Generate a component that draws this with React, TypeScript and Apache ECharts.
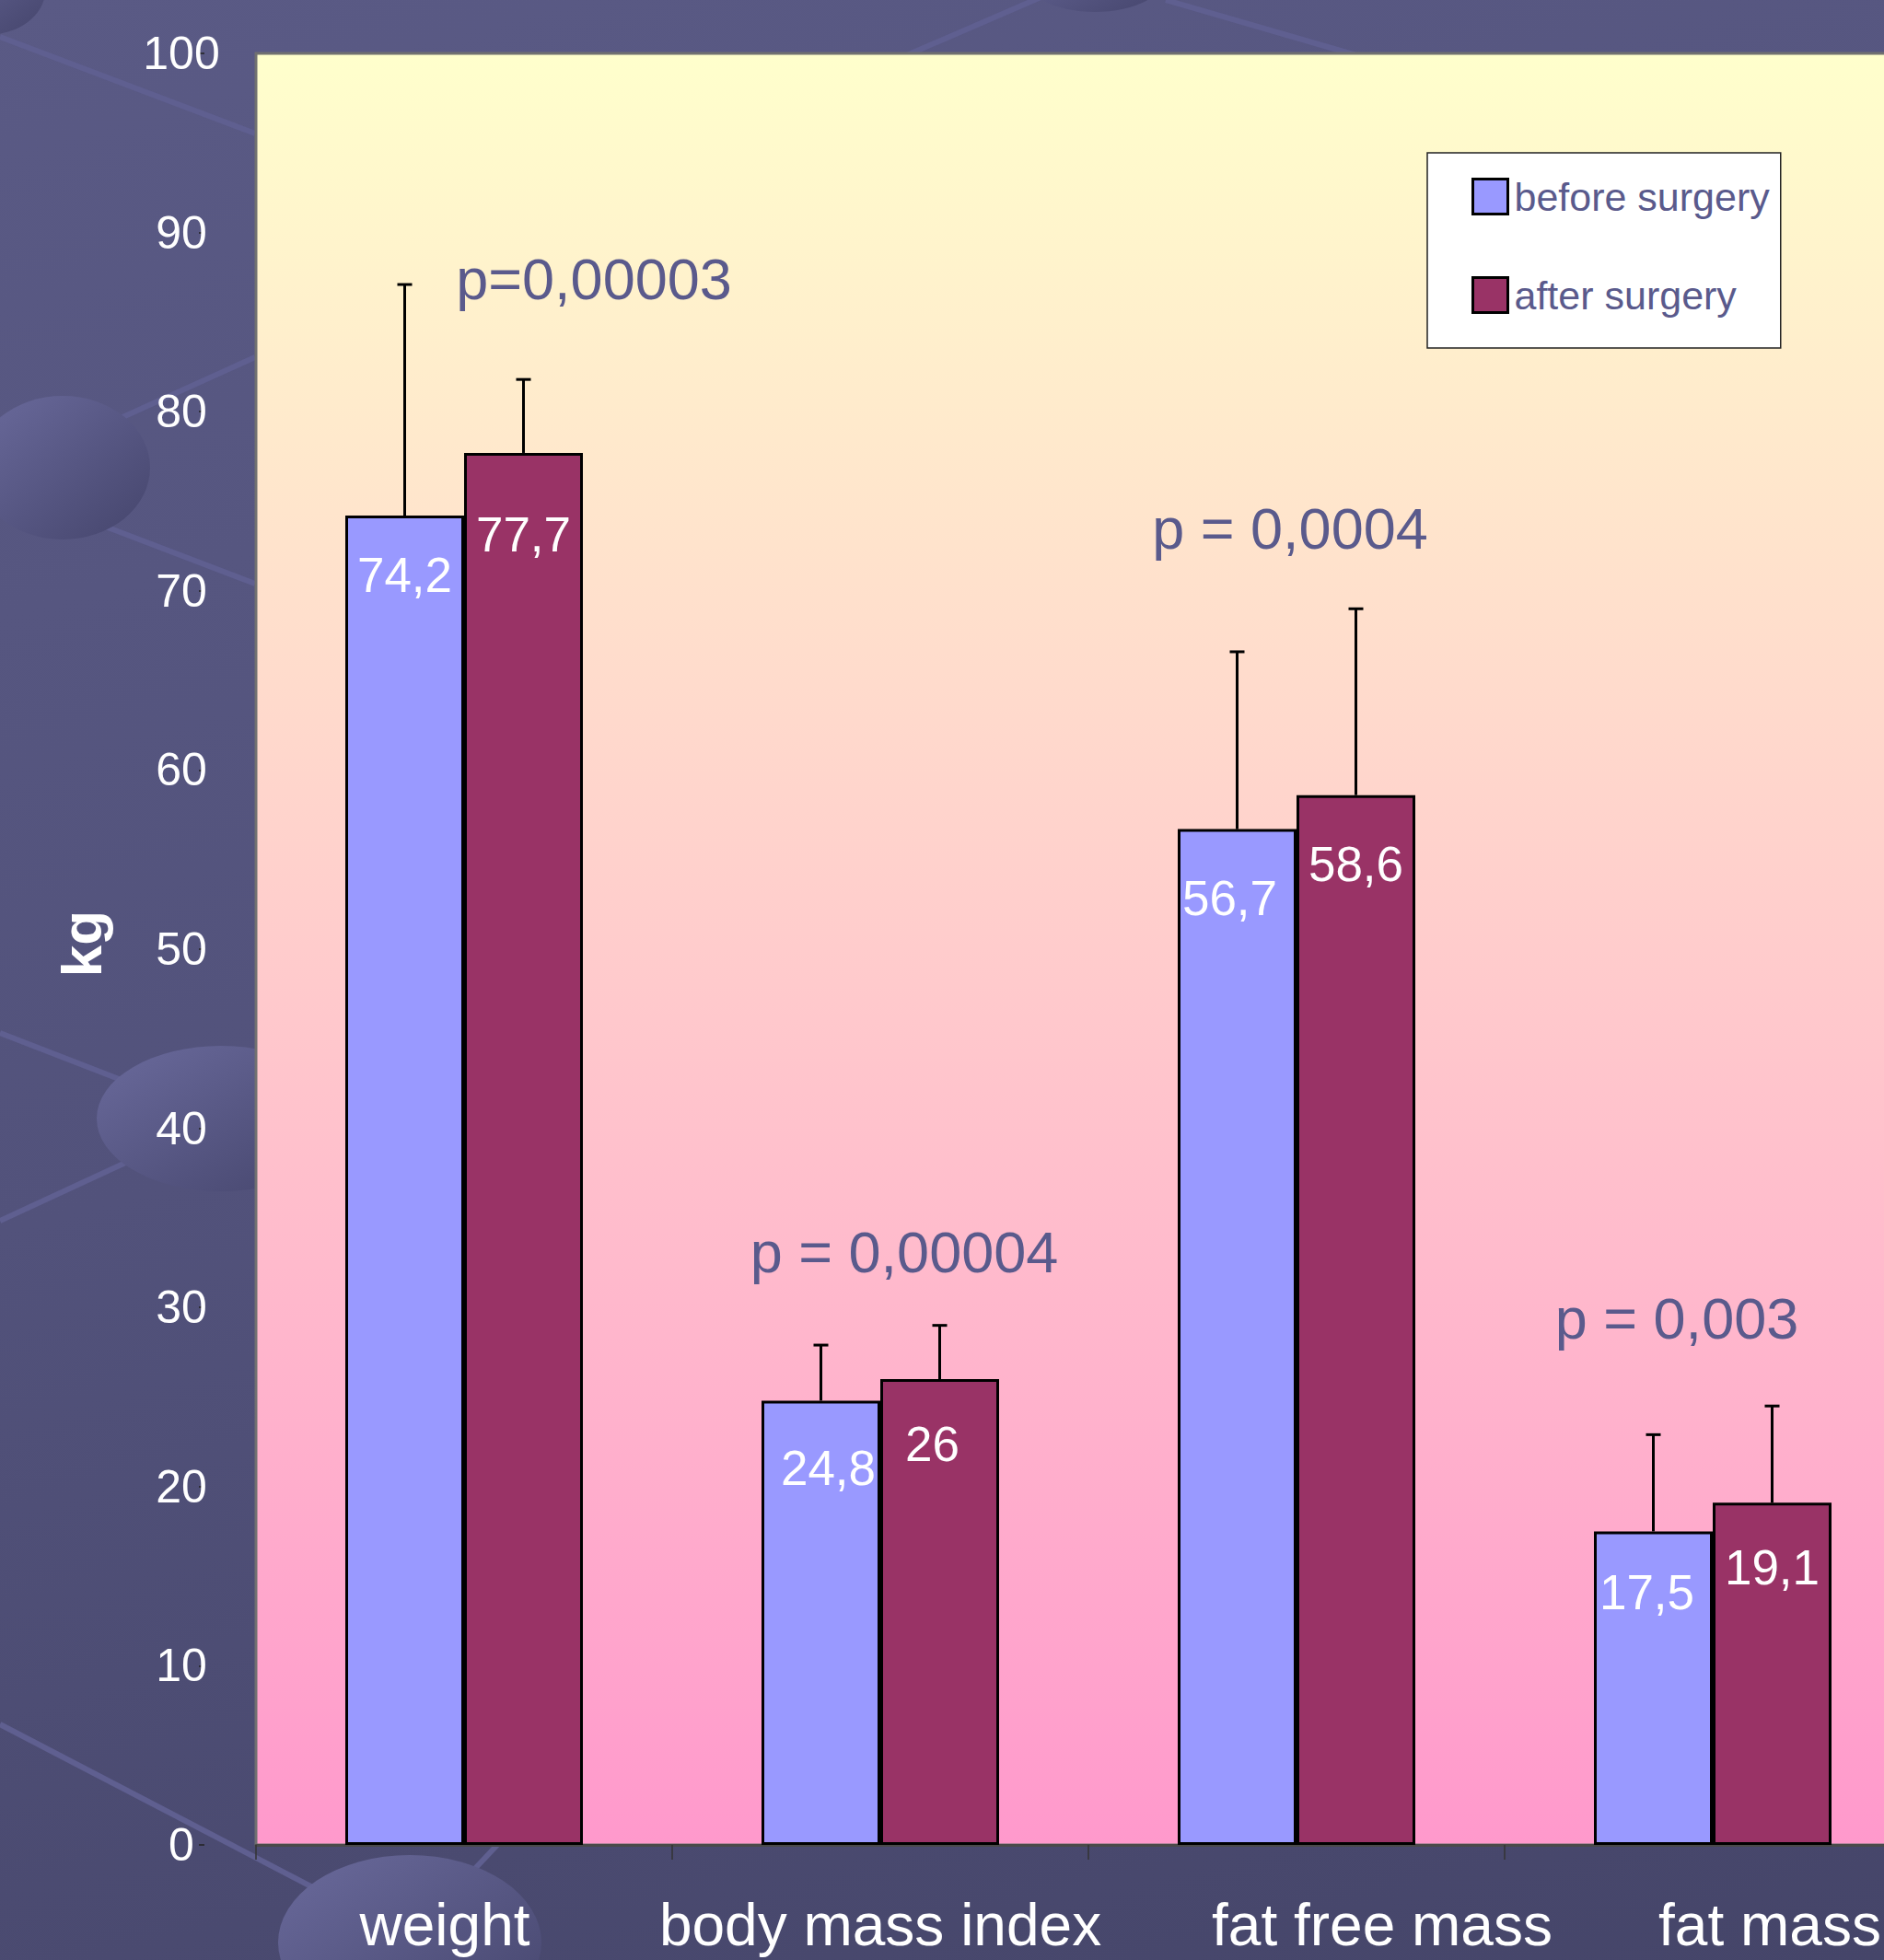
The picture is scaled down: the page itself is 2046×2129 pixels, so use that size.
import React, { useEffect, useRef } from "react";
import * as echarts from "echarts";

const categories = ["weight", "body mass index", "fat free mass", "fat mass"];
const seriesNames = ["before surgery", "after surgery"];
const beforeValues = [74.2, 24.8, 56.7, 17.5];
const afterValues = [77.7, 26, 58.6, 19.1];
const beforeSD = [12.9, 3.1, 9.9, 5.4];
const afterSD = [4.1, 3.0, 10.4, 5.4];
const pLabels = ["p=0,00003", "p = 0,00004", "p = 0,0004", "p = 0,003"];
const pLabelY = [87.4, 33.1, 73.5, 29.4];
const yMin = 0;
const yMax = 100;
const yStep = 10;

const FONT = '"Liberation Sans", Arial, Helvetica, sans-serif';
const BLUE = "#9999FF";
const PLUM = "#993366";
const SLATE = "#5A5A8C";
const BAR_W = 129;

// styling tweaks (label placement), not data
const beforeLabelDist = [38, 47, 48, 40];
const afterLabelDist = [62, 44, 48, 44];
const beforeLabelDx = [0, 8, -8, -7];
const afterLabelDx = [0, -8, 0, 0];
const pLabelDx = [141, 26, -7, -39];
const catShift = [-21, 0, 93, 62];

const fmt = (v: number) => String(v).replace(".", ",");

export default function App() {
  const ref = useRef<HTMLDivElement>(null);

  useEffect(() => {
    if (!ref.current) return;
    const chart = echarts.init(ref.current, null, { renderer: "svg" });

    const rich: Record<string, any> = {};
    catShift.forEach((s, i) => {
      rich["c" + i] = {
        color: "#ffffff",
        fontSize: 64,
        fontFamily: FONT,
        padding: s >= 0 ? [0, 0, 0, 2 * s] : [0, -2 * s, 0, 0],
      };
    });

    const barData = (vals: number[], dist: number[], dx: number[]) =>
      vals.map((v, i) => ({
        value: v,
        label: { distance: dist[i], offset: [dx[i], 0] },
      }));

    const errData: number[][] = [];
    beforeValues.forEach((v, i) => errData.push([i, v, beforeSD[i], 0]));
    afterValues.forEach((v, i) => errData.push([i, v, afterSD[i], 1]));

    const option: any = {
      animation: false,
      backgroundColor: "transparent",
      textStyle: { fontFamily: FONT },
      grid: {
        left: 278,
        top: 58,
        width: 1808,
        height: 1946,
        show: true,
        borderColor: "#707070",
        borderWidth: 3,
        backgroundColor: new echarts.graphic.LinearGradient(0, 0, 0, 1, [
          { offset: 0, color: "#FFFFCC" },
          { offset: 0.5, color: "#FFCCCC" },
          { offset: 1, color: "#FF99CC" },
        ]),
      },
      legend: {
        data: seriesNames,
        orient: "vertical",
        left: 1550,
        top: 166,
        padding: [26, 12, 36, 48],
        itemGap: 64,
        itemWidth: 38,
        itemHeight: 38,
        icon: "rect",
        backgroundColor: "#ffffff",
        borderColor: "#222",
        borderWidth: 1.5,
        borderRadius: 0,
        itemStyle: { borderColor: "#000", borderWidth: 3 },
        textStyle: {
          color: SLATE,
          fontSize: 43,
          fontFamily: FONT,
          lineHeight: 43,
          padding: [-6, 0, 0, 2],
        },
      },
      xAxis: {
        type: "category",
        data: categories,
        axisLine: { show: true, lineStyle: { color: "#4a4a4a", width: 3 } },
        axisTick: { show: true, length: 16, lineStyle: { color: "#333", width: 1.5 } },
        axisLabel: {
          interval: 0,
          margin: 55,
          color: "#fff",
          fontSize: 64,
          fontFamily: FONT,
          formatter: (v: string, i: number) => `{c${i}|${v}}`,
          rich,
        },
        splitLine: { show: false },
      },
      yAxis: {
        type: "value",
        min: yMin,
        max: yMax,
        interval: yStep,
        offset: 56,
        axisLine: { show: false },
        axisTick: { show: true, length: 6, lineStyle: { color: "#222", width: 1.5 } },
        axisLabel: {
          color: "#fff",
          fontSize: 50,
          fontFamily: FONT,
          align: "center",
          margin: 25,
        },
        splitLine: { show: false },
      },
      graphic: [
        {
          type: "text",
          x: 88,
          y: 1025,
          rotation: Math.PI / 2,
          style: {
            text: "kg",
            fill: "#fff",
            font: `bold 62px ${FONT}`,
            align: "center",
            verticalAlign: "middle",
          },
        },
      ],
      series: [
        {
          name: seriesNames[0],
          type: "bar",
          data: barData(beforeValues, beforeLabelDist, beforeLabelDx),
          barWidth: BAR_W,
          barGap: "0%",
          itemStyle: { color: BLUE, borderColor: "#000", borderWidth: 3 },
          label: {
            show: true,
            position: "insideTop",
            color: "#fff",
            fontSize: 53,
            fontFamily: FONT,
            formatter: (p: any) => fmt(p.value),
          },
        },
        {
          name: seriesNames[1],
          type: "bar",
          data: barData(afterValues, afterLabelDist, afterLabelDx),
          barWidth: BAR_W,
          barGap: "0%",
          itemStyle: { color: PLUM, borderColor: "#000", borderWidth: 3 },
          label: {
            show: true,
            position: "insideTop",
            color: "#fff",
            fontSize: 53,
            fontFamily: FONT,
            formatter: (p: any) => fmt(p.value),
          },
        },
        {
          type: "custom",
          name: "error",
          data: errData,
          encode: { x: 0, y: 1 },
          z: 3,
          renderItem: (params: any, api: any) => {
            const cat = api.value(0);
            const mean = api.value(1);
            const sd = api.value(2);
            const s = api.value(3);
            const base = api.coord([cat, mean]);
            const top = api.coord([cat, mean + sd]);
            const x = base[0] + (s === 0 ? -BAR_W / 2 : BAR_W / 2);
            const st = { stroke: "#000", lineWidth: 3 };
            return {
              type: "group",
              children: [
                { type: "line", shape: { x1: x, y1: base[1], x2: x, y2: top[1] }, style: st },
                { type: "line", shape: { x1: x - 8, y1: top[1], x2: x + 8, y2: top[1] }, style: st },
              ],
            };
          },
        },
        {
          type: "scatter",
          name: "p",
          symbolSize: 0,
          z: 4,
          itemStyle: { opacity: 1 },
          data: pLabelY.map((y, i) => ({
            value: [i, y],
            label: { offset: [pLabelDx[i], 0] },
          })),
          label: {
            show: true,
            position: "inside",
            color: SLATE,
            opacity: 1,
            fontSize: 63,
            fontFamily: FONT,
            formatter: (p: any) => pLabels[p.dataIndex],
          },
        },
      ],
    };

    chart.setOption(option);
    return () => chart.dispose();
  }, []);

  const lineStyle = { stroke: "#5F5F90", strokeWidth: 6 };
  return (
    <div
      style={{
        position: "fixed",
        left: 0,
        top: 0,
        width: "2046px",
        height: "2129px",
        overflow: "hidden",
        background: "linear-gradient(165deg, #5A5A85 0%, #52527B 50%, #454569 100%)",
      }}
    >
      <svg
        width={2046}
        height={2129}
        style={{ position: "absolute", left: 0, top: 0 }}
      >
        <defs>
          <linearGradient id="eg" x1="0" y1="0" x2="1" y2="1">
            <stop offset="0%" stopColor="#6A6A9C" />
            <stop offset="100%" stopColor="#45456C" />
          </linearGradient>
        </defs>
        <line x1={0} y1={40} x2={277} y2={145} {...lineStyle} />
        <line x1={129} y1={455} x2={277} y2={388} {...lineStyle} />
        <line x1={112} y1={571} x2={277} y2={634} {...lineStyle} />
        <line x1={0} y1={1122} x2={240} y2={1215} {...lineStyle} />
        <line x1={0} y1={1326} x2={240} y2={1215} {...lineStyle} />
        <line x1={0} y1={1873} x2={445} y2={2105} {...lineStyle} />
        <line x1={445} y1={2105} x2={540} y2={2004} {...lineStyle} />
        <line x1={980} y1={62} x2={1135} y2={-5} {...lineStyle} />
        <line x1={1266} y1={0} x2={1473} y2={60} {...lineStyle} />
        <ellipse cx={-15} cy={-10} rx={64} ry={48} fill="url(#eg)" />
        <ellipse cx={68} cy={508} rx={95} ry={78} fill="url(#eg)" />
        <ellipse cx={240} cy={1215} rx={135} ry={79} fill="url(#eg)" />
        <ellipse cx={445} cy={2110} rx={143} ry={95} fill="url(#eg)" />
        <ellipse cx={1189} cy={-30} rx={80} ry={43} fill="url(#eg)" />
      </svg>
      <div
        ref={ref}
        style={{ position: "absolute", left: 0, top: 0, width: "2200px", height: "2129px" }}
      />
    </div>
  );
}
